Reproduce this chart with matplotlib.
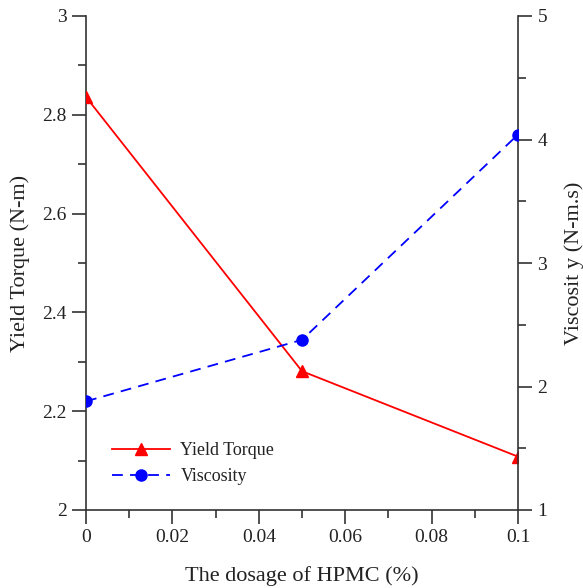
import matplotlib
matplotlib.use("Agg")
import matplotlib.pyplot as plt
from matplotlib.ticker import MultipleLocator, FuncFormatter

dosage = [0.0, 0.05, 0.1]
yield_torque = [2.836, 2.281, 2.108]
viscosity = [1.88, 2.378, 4.04]

x_ticks = [0, 0.02, 0.04, 0.06, 0.08, 0.1]
left_ticks = [2, 2.2, 2.4, 2.6, 2.8, 3]
right_ticks = [1, 2, 3, 4, 5]

plt.rcParams['font.family'] = ['Liberation Serif', 'DejaVu Serif']
plt.rcParams['mathtext.fontset'] = 'stix'

fig = plt.figure(figsize=(5.83, 5.88), dpi=100)
ax1 = fig.add_axes([86/583, 1-510/588, (518-86)/583, (510-16)/588])
ax2 = ax1.twinx()

spc = '#333333'
l1, = ax1.plot(dosage, yield_torque, color='#ff0000', lw=1.3, marker='^', ms=8,
               label='Yield Torque', zorder=3)
l2, = ax2.plot(dosage, viscosity, color='#0000ff', lw=1.3, ls=(0, (6, 4)), marker='o', ms=8,
               label='Viscosity', zorder=3)

ax1.set_xlim(0, 0.1)
ax1.set_ylim(2, 3)
ax2.set_ylim(1, 5)
ax1.set_xticks(x_ticks)
ax1.set_yticks(left_ticks)
ax2.set_yticks(right_ticks)
ax1.xaxis.set_minor_locator(MultipleLocator(0.01))
ax1.yaxis.set_minor_locator(MultipleLocator(0.1))
ax2.yaxis.set_minor_locator(MultipleLocator(0.5))

fmt = FuncFormatter(lambda v, p: ('%g' % round(v, 4)))
ax1.xaxis.set_major_formatter(fmt)
ax1.yaxis.set_major_formatter(fmt)
ax2.yaxis.set_major_formatter(fmt)

for ax in (ax1, ax2):
    ax.spines['top'].set_visible(False)
    for s in ax.spines.values():
        s.set_color(spc)
        s.set_linewidth(1.2)
    ax.tick_params(which='major', direction='out', length=10, width=1.2, color=spc,
                   labelsize=14, labelcolor='#222222', pad=4)
    ax.tick_params(which='minor', direction='out', length=5.5, width=1.2, color=spc)
ax2.spines['left'].set_visible(False)
ax2.spines['bottom'].set_visible(False)
ax1.spines['right'].set_visible(False)

ax1.set_xlabel('The dosage of HPMC (%)', fontsize=16, color='#222222', labelpad=14)
ax1.set_ylabel('Yield Torque (N-m)', fontsize=16, color='#222222', labelpad=9)
ax2.set_ylabel('Viscosit y (N-m.s)', fontsize=16, color='#222222', labelpad=12)

leg = ax1.legend([l1, l2], ['Yield Torque', 'Viscosity'], loc='lower left',
                 bbox_to_anchor=(0.022, 0.018), frameon=False, fontsize=13,
                 handlelength=3.2, handletextpad=0.6, labelspacing=0.5)
for t in leg.get_texts():
    t.set_color('#222222')

fig.savefig('out.png', dpi=100)
